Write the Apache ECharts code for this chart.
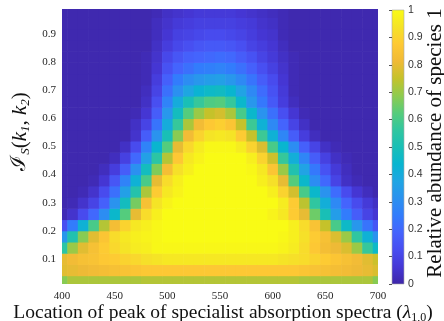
<!DOCTYPE html>
<html>
<head>
<meta charset="utf-8">
<script src="https://cdn.jsdelivr.net/npm/echarts@6/dist/echarts.min.js"></script>
<style>
  html, body { margin: 0; padding: 0; background: #ffffff; }
  #chart { width: 444px; height: 321px; }
</style>
</head>
<body>
<div id="chart"></div>
<script>
// Peak wavelength of the specialist absorption spectrum (cell centres, nm)
const peaks = [400, 410, 420, 430, 440, 450, 460, 470, 480, 490, 500, 510, 520, 530, 540, 550,
               560, 570, 580, 590, 600, 610, 620, 630, 640, 650, 660, 670, 680, 690, 700];

// I_S(k1, k2) at the centre of each row of cells
const levels = [0.02, 0.06, 0.10, 0.14, 0.18, 0.22, 0.26, 0.30, 0.34, 0.38, 0.42, 0.46, 0.50,
                0.54, 0.58, 0.62, 0.66, 0.70, 0.74, 0.78, 0.82, 0.86, 0.90, 0.94, 0.98];

// Relative abundance of species 1, one array per row (left to right along peaks)
const row002 = [0.68,0.72,0.72,0.72,0.72,0.72,0.72,0.72,0.73,0.73,0.73,0.73,0.73,0.73,0.73,0.73,0.73,0.73,0.73,0.73,0.73,0.73,0.73,0.72,0.72,0.72,0.72,0.72,0.72,0.72,0.68];
const row006 = [0.79,0.80,0.81,0.82,0.83,0.84,0.85,0.86,0.87,0.87,0.87,0.87,0.87,0.87,0.87,0.87,0.87,0.87,0.87,0.87,0.87,0.87,0.87,0.86,0.85,0.84,0.83,0.82,0.81,0.80,0.78];
const row010 = [0.80,0.82,0.84,0.85,0.87,0.88,0.90,0.91,0.93,0.94,0.95,0.95,0.95,0.95,0.95,0.95,0.95,0.95,0.95,0.95,0.95,0.94,0.93,0.92,0.90,0.88,0.86,0.84,0.82,0.79,0.76];
const row014 = [0.55,0.70,0.79,0.84,0.88,0.91,0.94,0.96,0.97,0.99,0.99,0.99,0.99,0.99,0.99,0.99,0.99,0.99,0.99,0.99,0.99,0.98,0.96,0.92,0.87,0.83,0.81,0.78,0.70,0.57,0.46];
const row018 = [0.33,0.52,0.68,0.79,0.86,0.92,0.95,0.97,0.98,0.99,1.00,1.00,1.00,1.00,1.00,1.00,1.00,1.00,1.00,1.00,1.00,0.99,0.97,0.93,0.88,0.84,0.78,0.70,0.56,0.42,0.32];
const row022 = [0.13,0.25,0.42,0.60,0.73,0.83,0.90,0.95,0.97,0.99,1.00,1.00,1.00,1.00,1.00,1.00,1.00,1.00,1.00,1.00,1.00,1.00,0.97,0.92,0.85,0.75,0.60,0.46,0.33,0.23,0.15];
const row026 = [0.02,0.05,0.12,0.20,0.30,0.45,0.62,0.80,0.92,0.97,1.00,1.00,1.00,1.00,1.00,1.00,1.00,1.00,1.00,1.00,0.98,0.95,0.88,0.80,0.65,0.50,0.35,0.25,0.17,0.10,0.06];
const row030 = [0.01,0.02,0.05,0.10,0.18,0.32,0.48,0.66,0.84,0.94,0.98,1.00,1.00,1.00,1.00,1.00,1.00,1.00,1.00,1.00,1.00,0.96,0.88,0.74,0.56,0.41,0.29,0.19,0.12,0.07,0.04];
const row034 = [0.01,0.01,0.02,0.05,0.12,0.22,0.36,0.53,0.72,0.88,0.95,0.98,1.00,1.00,1.00,1.00,1.00,1.00,1.00,1.00,0.97,0.90,0.77,0.60,0.45,0.32,0.21,0.12,0.06,0.03,0.01];
const row038 = [0.01,0.01,0.01,0.02,0.06,0.15,0.27,0.42,0.60,0.80,0.92,0.97,1.00,1.00,1.00,1.00,1.00,1.00,1.00,0.97,0.93,0.80,0.62,0.45,0.30,0.20,0.10,0.04,0.02,0.01,0.01];
const row042 = [0.01,0.01,0.01,0.01,0.03,0.08,0.17,0.31,0.48,0.67,0.83,0.93,0.97,1.00,1.00,1.00,1.00,1.00,0.99,0.95,0.86,0.70,0.52,0.37,0.24,0.14,0.07,0.03,0.01,0.01,0.01];
const row046 = [0.01,0.01,0.01,0.01,0.01,0.03,0.09,0.20,0.36,0.55,0.73,0.87,0.95,0.98,1.00,1.00,1.00,1.00,0.97,0.90,0.76,0.57,0.41,0.28,0.17,0.09,0.04,0.02,0.01,0.01,0.01];
const row050 = [0.01,0.01,0.01,0.01,0.01,0.01,0.04,0.12,0.27,0.44,0.62,0.80,0.91,0.96,0.99,0.99,0.99,0.96,0.90,0.78,0.60,0.44,0.30,0.18,0.10,0.04,0.02,0.01,0.01,0.01,0.01];
const row054 = [0.01,0.01,0.01,0.01,0.01,0.01,0.01,0.05,0.17,0.32,0.50,0.68,0.82,0.90,0.94,0.95,0.94,0.88,0.75,0.58,0.42,0.28,0.17,0.08,0.03,0.01,0.01,0.01,0.01,0.01,0.01];
const row058 = [0.01,0.01,0.01,0.01,0.01,0.01,0.01,0.04,0.10,0.23,0.40,0.57,0.72,0.82,0.87,0.89,0.86,0.75,0.58,0.42,0.29,0.19,0.10,0.04,0.01,0.01,0.01,0.01,0.01,0.01,0.01];
const row062 = [0.01,0.01,0.01,0.01,0.01,0.01,0.01,0.02,0.06,0.17,0.33,0.48,0.62,0.70,0.75,0.77,0.72,0.60,0.45,0.32,0.22,0.13,0.06,0.02,0.01,0.01,0.01,0.01,0.01,0.01,0.01];
const row066 = [0.01,0.01,0.01,0.01,0.01,0.01,0.01,0.01,0.04,0.13,0.27,0.40,0.50,0.57,0.61,0.62,0.57,0.45,0.33,0.24,0.16,0.08,0.03,0.01,0.01,0.01,0.01,0.01,0.01,0.01,0.01];
const row070 = [0.01,0.01,0.01,0.01,0.01,0.01,0.01,0.01,0.03,0.10,0.22,0.31,0.38,0.43,0.46,0.47,0.44,0.37,0.29,0.21,0.14,0.07,0.02,0.01,0.01,0.01,0.01,0.01,0.01,0.01,0.01];
const row074 = [0.01,0.01,0.01,0.01,0.01,0.01,0.01,0.01,0.02,0.08,0.18,0.25,0.30,0.33,0.35,0.36,0.33,0.29,0.23,0.17,0.12,0.06,0.02,0.01,0.01,0.01,0.01,0.01,0.01,0.01,0.01];
const row078 = [0.01,0.01,0.01,0.01,0.01,0.01,0.01,0.01,0.02,0.06,0.14,0.19,0.22,0.25,0.26,0.27,0.25,0.22,0.18,0.13,0.09,0.05,0.02,0.01,0.01,0.01,0.01,0.01,0.01,0.01,0.01];
const row082 = [0.01,0.01,0.01,0.01,0.01,0.01,0.01,0.01,0.02,0.05,0.11,0.15,0.18,0.19,0.20,0.21,0.20,0.17,0.14,0.10,0.07,0.04,0.02,0.01,0.01,0.01,0.01,0.01,0.01,0.01,0.01];
const row086 = [0.01,0.01,0.01,0.01,0.01,0.01,0.01,0.01,0.01,0.04,0.08,0.11,0.13,0.15,0.16,0.16,0.15,0.13,0.10,0.08,0.06,0.03,0.01,0.01,0.01,0.01,0.01,0.01,0.01,0.01,0.01];
const row090 = [0.01,0.01,0.01,0.01,0.01,0.01,0.01,0.01,0.01,0.03,0.06,0.09,0.10,0.11,0.12,0.12,0.11,0.10,0.08,0.06,0.05,0.02,0.01,0.01,0.01,0.01,0.01,0.01,0.01,0.01,0.01];
const row094 = [0.01,0.01,0.01,0.01,0.01,0.01,0.01,0.01,0.01,0.03,0.05,0.07,0.08,0.09,0.09,0.09,0.09,0.08,0.07,0.05,0.04,0.02,0.01,0.01,0.01,0.01,0.01,0.01,0.01,0.01,0.01];
const row098 = [0.01,0.01,0.01,0.01,0.01,0.01,0.01,0.01,0.01,0.02,0.04,0.05,0.06,0.07,0.07,0.07,0.07,0.06,0.05,0.04,0.03,0.02,0.01,0.01,0.01,0.01,0.01,0.01,0.01,0.01,0.01];

// Tick labels
const xTicks = [400, 450, 500, 550, 600, 650, 700];
const yTicks = [0.1, 0.2, 0.3, 0.4, 0.5, 0.6, 0.7, 0.8, 0.9];
const barTicks = [0, 0.1, 0.2, 0.3, 0.4, 0.5, 0.6, 0.7, 0.8, 0.9, 1];

// Parula colour map, evenly spaced stops from 0 to 1
const parula = ['#3e26a8', '#4537d5', '#484df0', '#4563fd', '#327cfc', '#2b91ef', '#20a5e3',
                '#08b5d0', '#19bfb6', '#31c69f', '#57cc7a', '#8fcb4e', '#c5c22a', '#f0ba36',
                '#fec934', '#f5e327', '#f9fb15'];

const rows = [row002, row006, row010, row014, row018, row022, row026, row030, row034, row038,
              row042, row046, row050, row054, row058, row062, row066, row070, row074, row078,
              row082, row086, row090, row094, row098];

const cells = [];
levels.forEach((y, i) => {
  peaks.forEach((x, j) => cells.push([x, y, rows[i][j]]));
});

const stepX = peaks[1] - peaks[0];
const stepY = levels[1] - levels[0];
const serif = 'Liberation Serif';

const chart = echarts.init(document.getElementById('chart'), null, { renderer: 'canvas' });

chart.setOption({
  animation: false,
  grid: [
    { left: 62, top: 9, width: 316, height: 275, outerBoundsMode: 'none' },
    { left: 392, top: 10, width: 12, height: 274, outerBoundsMode: 'none' }
  ],
  xAxis: [
    {
      type: 'value', gridIndex: 0,
      min: xTicks[0], max: xTicks[xTicks.length - 1], interval: 50,
      axisLine: { show: false }, axisTick: { show: false }, splitLine: { show: false },
      axisLabel: { fontFamily: serif, fontSize: 11, color: '#262626', margin: 7 },
      name: 'Location of peak of specialist absorption spectra ({i|λ}{s|1,0})',
      nameLocation: 'middle', nameGap: 18, nameMoveOverlap: false,
      nameTextStyle: {
        fontFamily: serif, fontSize: 19.5, color: '#111', lineHeight: 22,
        padding: [0, 0, 0, 6],
        rich: {
          i: { fontFamily: serif, fontStyle: 'italic', fontSize: 19.5, lineHeight: 22 },
          s: { fontFamily: serif, fontSize: 12, lineHeight: 12, verticalAlign: 'bottom' }
        }
      }
    },
    { type: 'value', gridIndex: 1, min: 0, max: 1, show: false }
  ],
  yAxis: [
    {
      type: 'value', gridIndex: 0, min: 0.01, max: 0.99,
      axisLine: { show: false }, axisTick: { show: false }, splitLine: { show: false },
      axisLabel: { customValues: yTicks, fontFamily: serif, fontSize: 11, color: '#262626', margin: 6 },
      name: '{c|ℐ}{s|S}({i|k}{s|1}, {i|k}{s|2})',
      nameLocation: 'middle', nameGap: 30, nameMoveOverlap: false,
      nameTextStyle: {
        fontFamily: serif, fontSize: 21, color: '#111', lineHeight: 24,
        padding: [0, 0, 0, 30],
        rich: {
          c: { fontFamily: 'DejaVu Serif', fontSize: 21, lineHeight: 24 },
          i: { fontFamily: serif, fontStyle: 'italic', fontSize: 21, lineHeight: 24 },
          s: { fontFamily: serif, fontStyle: 'italic', fontSize: 13, lineHeight: 13, verticalAlign: 'bottom' }
        }
      }
    },
    {
      type: 'value', gridIndex: 1, position: 'right', z: 10,
      min: barTicks[0], max: barTicks[barTicks.length - 1], interval: 0.1,
      axisLine: { show: false },
      axisTick: { inside: true, length: 3, lineStyle: { color: '#555', width: 1 } },
      splitLine: { show: false },
      axisLabel: { fontFamily: 'Liberation Sans', fontSize: 10.5, color: '#333', margin: 4 },
      name: 'Relative abundance of species 1',
      nameLocation: 'middle', nameRotate: 90, nameGap: 21, nameMoveOverlap: false,
      nameTextStyle: { fontFamily: serif, fontSize: 21, color: '#111', padding: [0, 0, 0, 8] }
    }
  ],
  visualMap: {
    show: false, type: 'continuous', min: 0, max: 1, dimension: 2, seriesIndex: 0,
    inRange: { color: parula }
  },
  series: [
    {
      type: 'custom', xAxisIndex: 0, yAxisIndex: 0, clip: true, data: cells,
      renderItem: function (params, api) {
        const x = api.value(0), y = api.value(1);
        const p0 = api.coord([x - stepX / 2, y + stepY / 2]);
        const p1 = api.coord([x + stepX / 2, y - stepY / 2]);
        return {
          type: 'rect',
          shape: { x: p0[0], y: p0[1], width: p1[0] - p0[0] + 0.6, height: p1[1] - p0[1] + 0.6 },
          style: { fill: api.visual('color') }
        };
      }
    },
    {
      type: 'custom', xAxisIndex: 1, yAxisIndex: 1, data: [[0.5, 0.5]],
      renderItem: function (params) {
        const c = params.coordSys;
        const stops = parula.map((col, k) => ({ offset: k / (parula.length - 1), color: col }));
        return {
          type: 'rect',
          shape: { x: c.x, y: c.y, width: c.width, height: c.height },
          style: { fill: new echarts.graphic.LinearGradient(0, 1, 0, 0, stops), stroke: '#a8a8a8', lineWidth: 0.6 }
        };
      }
    }
  ]
});
</script>
</body>
</html>
